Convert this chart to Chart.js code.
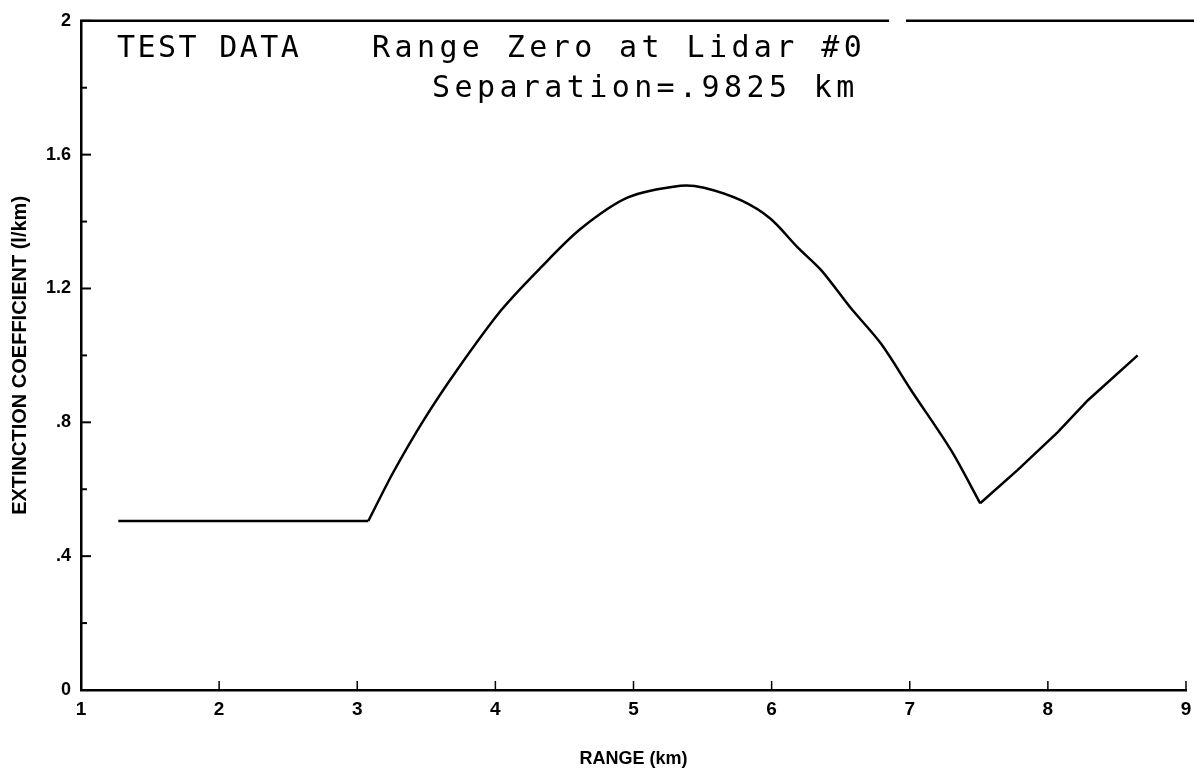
<!DOCTYPE html>
<html><head><meta charset="utf-8">
<script src="https://cdn.jsdelivr.net/npm/chart.js@4"></script>
<style>html,body{margin:0;padding:0;background:#fff}canvas{display:block}</style>
</head><body>
<canvas id="c" width="1194" height="776"></canvas>
<script>
// Range (km) along path and extinction coefficient (1/km)
const rangeKm    = [1.27, 3.08, 3.26, 3.48, 3.72, 4.04, 4.33, 4.62, 4.96, 5.34, 5.51, 5.78, 5.99, 6.19, 6.36, 6.57, 6.79, 7.01, 7.30, 7.51, 7.78, 8.07, 8.29, 8.65];
const extinction = [0.505, 0.505, 0.65, 0.806, 0.955, 1.134, 1.263, 1.379, 1.472, 1.507, 1.501, 1.463, 1.409, 1.322, 1.254, 1.143, 1.036, 0.896, 0.716, 0.558, 0.657, 0.770, 0.866, 1.0];
// indices where the curve has sharp corners (start of rise, bottom of the dip)
const cornerRiseIdx = 1;
const cornerDipIdx = 19;

const xTickValues = [1, 2, 3, 4, 5, 6, 7, 8, 9];
const xTickLabels = ['1', '2', '3', '4', '5', '6', '7', '8', '9'];
const yMajorValues = [0, 0.4, 0.8, 1.2, 1.6, 2];
const yTickLabels  = ['0', '.4', '.8', '1.2', '1.6', '2'];

const titleLine1a = 'TEST DATA';
const titleLine1b = 'Range Zero at Lidar #0';
const titleLine2  = 'Separation=.9825 km';

const points = rangeKm.map((x, i) => ({x: x, y: extinction[i]}));
const seg = (a, b, tension) => ({
  data: points.slice(a, b + 1),
  borderColor: '#000',
  borderWidth: 2.5,
  pointRadius: 0,
  tension: tension,
  fill: false
});

const inwardTicks = {
  id: 'inwardTicks',
  afterDraw(chart) {
    const {ctx, chartArea: a, scales: {x, y}} = chart;
    ctx.save();
    ctx.strokeStyle = '#000';
    ctx.lineWidth = 2;
    y.ticks.forEach(t => {
      const py = y.getPixelForValue(t.value);
      const major = t.label !== '';
      ctx.beginPath();
      ctx.moveTo(a.left, py);
      ctx.lineTo(a.left + (major ? 10 : 6), py);
      ctx.stroke();
    });
    ctx.lineWidth = 1.5;
    x.ticks.forEach(t => {
      const px = x.getPixelForValue(t.value);
      ctx.beginPath();
      ctx.moveTo(px, a.bottom);
      ctx.lineTo(px, a.bottom - 9);
      ctx.stroke();
    });
    // top frame line (with the small break seen in the original)
    ctx.lineWidth = 2.5;
    ctx.beginPath();
    ctx.moveTo(a.left - 1, a.top);
    ctx.lineTo(889, a.top);
    ctx.moveTo(906, a.top);
    ctx.lineTo(chart.width, a.top);
    ctx.stroke();
    // annotation text
    ctx.fillStyle = '#000';
    ctx.font = '30px "DejaVu Sans Mono"';
    ctx.textBaseline = 'alphabetic';
    ctx.textAlign = 'left';
    ctx.letterSpacing = '2.4px';
    ctx.fillText(titleLine1a, 117, 57);
    ctx.letterSpacing = '4.4px';
    ctx.fillText(titleLine1b, 372, 57);
    ctx.fillText(titleLine2, 432, 97);
    ctx.restore();
  }
};

new Chart(document.getElementById('c'), {
  type: 'line',
  data: {
    datasets: [
      seg(0, cornerRiseIdx, 0),
      seg(cornerRiseIdx, cornerDipIdx, 0.3),
      seg(cornerDipIdx, rangeKm.length - 1, 0)
    ]
  },
  options: {
    responsive: false,
    animation: false,
    layout: {padding: {top: 20, right: 8, left: 0, bottom: 0}},
    plugins: {legend: {display: false}, tooltip: {enabled: false}},
    scales: {
      x: {
        type: 'linear',
        min: 1, max: 9,
        afterFit(s) { s.height = 86; s.paddingRight = 0; s.paddingLeft = 0; },
        afterBuildTicks(s) { s.ticks = xTickValues.map(v => ({value: v})); },
        ticks: {
          autoSkip: false,
          maxRotation: 0,
          padding: 8,
          color: '#000',
          font: {family: '"Liberation Sans", Arial', size: 19, weight: 'bold'},
          callback: (v) => { const i = xTickValues.indexOf(v); return i >= 0 ? xTickLabels[i] : ''; }
        },
        grid: {display: false, drawTicks: false},
        border: {display: true, color: '#000', width: 2.5},
        title: {
          display: true,
          text: 'RANGE (km)',
          color: '#000',
          font: {family: '"Liberation Sans", Arial', size: 18, weight: 'bold'},
          padding: {top: 0, bottom: 6}
        }
      },
      y: {
        type: 'linear',
        min: 0, max: 2,
        afterFit(s) { s.width = 81; },
        ticks: {
          stepSize: 0.2,
          autoSkip: false,
          padding: 10,
          color: '#000',
          font: {family: '"Liberation Sans", Arial', size: 18, weight: 'bold'},
          callback: (v) => {
            const i = yMajorValues.findIndex(m => Math.abs(m - v) < 1e-6);
            return i >= 0 ? yTickLabels[i] : '';
          }
        },
        grid: {display: false, drawTicks: false},
        border: {display: true, color: '#000', width: 2.5},
        title: {
          display: true,
          text: 'EXTINCTION COEFFICIENT (l/km)',
          color: '#000',
          font: {family: '"Liberation Sans", Arial', size: 20, weight: 'bold'},
          padding: {top: 8, bottom: 0}
        }
      }
    }
  },
  plugins: [inwardTicks]
});
</script>
</body></html>
